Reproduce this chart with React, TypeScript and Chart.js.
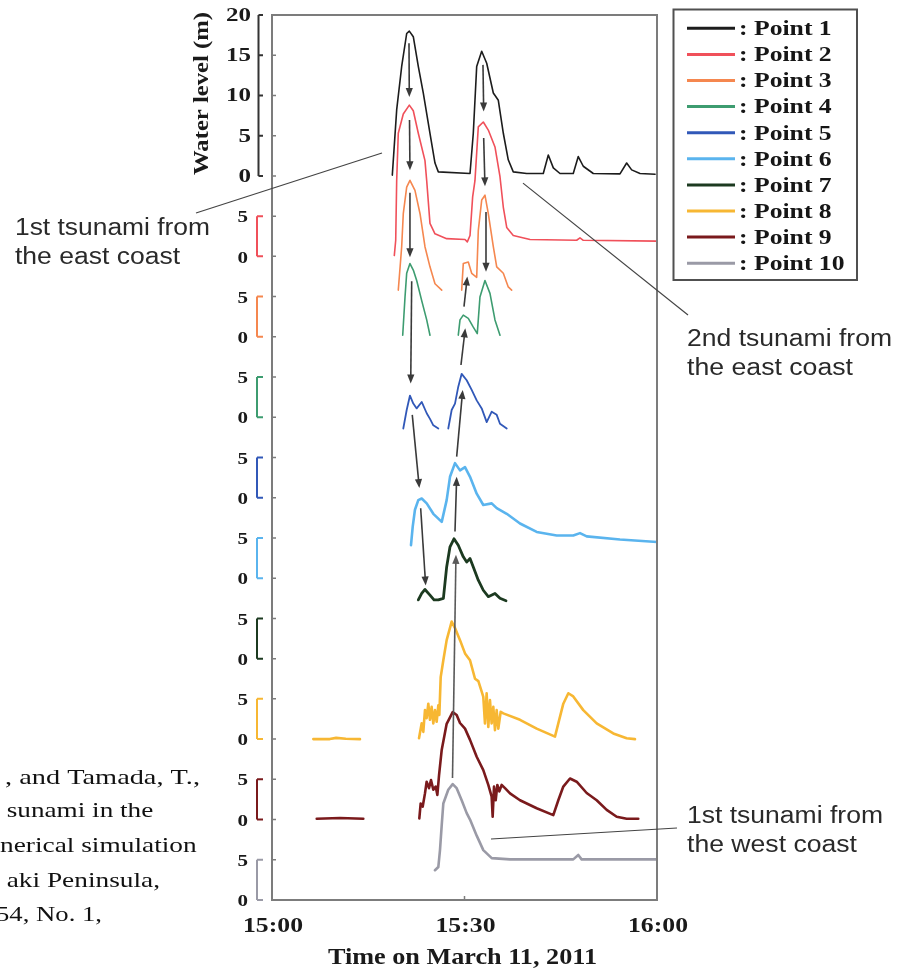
import React, { useEffect, useRef } from "react";
import { Chart, registerables } from "chart.js";

Chart.register(...registerables);

type Pt = [number, number | null];

// time in minutes after 15:00, water level (m) relative to each point's own zero
const pointNames = ["Point 1", "Point 2", "Point 3", "Point 4", "Point 5", "Point 6", "Point 7", "Point 8", "Point 9", "Point 10"];
const pointColors = ["#1c1c1c", "#f0505a", "#f5874f", "#3d9c70", "#3158b8", "#5ab4ee", "#1c3a20", "#f7b733", "#7a1a1c", "#9a9aa6"];
const pointWidths = [1.6, 1.6, 1.6, 1.6, 1.8, 2.6, 2.8, 2.6, 2.6, 2.6];
const panelStep = 10;

const point1: Pt[] = [[18.75, 0.1], [19.43, 8.2], [20.21, 13.6], [20.99, 17.7], [21.4, 18.0], [22.02, 17.3], [22.8, 13.6], [23.58, 10.3], [24.62, 5.3], [25.4, 1.6], [25.92, 0.5], [30.86, 0.3], [31.37, 5.3], [31.9, 13.6], [32.68, 15.5], [33.46, 14.0], [34.49, 10.3], [35.27, 9.4], [36.05, 5.3], [36.82, 2.0], [37.6, 0.5], [39.69, 0.3], [42.28, 0.3], [43.06, 2.6], [43.84, 1.0], [44.88, 0.3], [46.95, 0.3], [47.73, 2.4], [48.51, 1.2], [50.07, 0.3], [54.23, 0.25], [55.27, 1.6], [56.05, 0.75], [57.35, 0.3], [59.7, 0.2]];
const point2: Pt[] = [[19.06, 0.1], [19.28, 2.0], [19.43, 9.4], [19.68, 15.3], [20.46, 17.7], [21.4, 18.8], [22.02, 18.1], [22.8, 15.3], [23.84, 11.9], [24.11, 9.4], [24.62, 4.1], [25.4, 2.8], [27.22, 2.2], [30.08, 2.1], [30.44, 1.8], [30.86, 2.6], [31.27, 7.4], [31.63, 9.4], [32.15, 16.1], [32.93, 16.7], [33.71, 15.7], [34.75, 13.6], [35.53, 9.9], [36.05, 6.1], [36.58, 3.6], [37.6, 2.6], [40.21, 2.1], [47.48, 2.0], [48.0, 2.3], [48.51, 2.0], [60, 1.9]];
const point3: Pt[] = [[19.68, 5.8], [20.21, 11.2], [20.46, 15.3], [20.99, 18.6], [21.5, 19.45], [22.28, 18.2], [23.07, 15.3], [23.84, 11.2], [24.62, 8.7], [25.4, 6.6], [26.45, 5.8], [28.0, null], [29.56, 5.8], [29.81, 9.1], [30.59, 9.3], [31.12, 7.9], [31.9, 7.4], [32.15, 13.2], [32.68, 17.0], [33.19, 17.6], [33.71, 15.3], [34.49, 11.2], [35.02, 8.7], [36.05, 7.9], [36.82, 6.2], [37.35, 5.8]];
const point4: Pt[] = [[20.37, 10.2], [20.73, 14.95], [20.99, 17.9], [21.5, 19.1], [22.02, 18.3], [22.55, 17.0], [23.33, 14.5], [24.11, 12.1], [24.62, 10.2], [27.0, null], [29.03, 10.2], [29.3, 12.1], [29.81, 12.7], [30.59, 12.3], [31.37, 11.2], [31.99, 10.4], [32.41, 14.95], [33.19, 17.0], [33.97, 15.4], [34.75, 12.1], [35.53, 10.2]];
const point5: Pt[] = [[20.46, 8.6], [20.99, 10.9], [21.5, 12.7], [22.02, 11.7], [22.55, 11.1], [23.33, 11.9], [24.11, 10.5], [24.62, 9.8], [25.14, 9.0], [25.92, 8.6], [26.7, null], [27.47, 8.6], [28.0, 10.9], [28.52, 11.7], [29.03, 13.8], [29.56, 15.4], [30.34, 14.6], [31.12, 13.4], [31.9, 12.1], [32.68, 11.1], [33.46, 9.4], [34.24, 10.7], [35.02, 10.3], [35.53, 9.2], [36.58, 8.6]];
const point6: Pt[] = [[21.66, 4.1], [21.93, 6.4], [22.28, 8.5], [22.8, 9.7], [23.33, 9.9], [24.11, 9.3], [25.14, 8.0], [26.45, 7.0], [27.22, 9.7], [27.74, 12.6], [28.52, 14.3], [29.3, 13.4], [30.08, 13.8], [30.86, 12.6], [31.9, 10.5], [32.93, 9.1], [34.24, 9.3], [35.02, 8.7], [36.58, 8.0], [38.65, 6.8], [41.25, 5.75], [44.37, 5.3], [46.95, 5.3], [48.0, 5.6], [49.04, 5.2], [54.23, 4.8], [60, 4.5]];
const point7: Pt[] = [[22.8, 7.3], [23.33, 8.1], [23.84, 8.6], [24.62, 7.9], [25.25, 7.3], [25.92, 7.3], [26.71, 7.5], [27.22, 11.4], [27.74, 13.9], [28.36, 14.9], [29.03, 14.1], [29.81, 12.65], [30.34, 12.0], [30.86, 12.45], [31.37, 11.4], [32.15, 9.75], [32.93, 8.5], [33.71, 7.7], [34.75, 8.1], [35.53, 7.5], [36.47, 7.2]];
const point8: Pt[] = [[6.44, 0.0], [9.0, 0.0], [10.0, 0.15], [11.5, 0.05], [13.71, 0.0], [18.0, null], [22.91, 0.1], [23.32, 1.95], [23.58, 0.9], [23.84, 3.6], [24.1, 2.6], [24.36, 4.4], [24.62, 2.4], [24.88, 4.0], [25.14, 1.95], [25.4, 3.6], [25.66, 2.15], [25.92, 4.2], [26.08, 3.0], [26.29, 7.7], [26.7, 9.8], [27.22, 12.3], [28.0, 14.6], [28.52, 13.8], [29.3, 12.3], [30.08, 10.65], [30.86, 9.8], [31.64, 7.5], [32.16, 7.2], [32.68, 5.9], [32.93, 5.25], [33.19, 1.95], [33.45, 5.7], [33.71, 1.5], [33.97, 4.85], [34.23, 1.95], [34.49, 4.0], [34.75, 1.1], [35.01, 3.6], [35.27, 1.3], [35.64, 3.4], [36.05, 3.2], [38.65, 2.4], [41.25, 1.3], [44.1, 0.3], [44.62, 1.95], [45.4, 4.4], [46.18, 5.7], [46.95, 5.3], [48.51, 3.6], [50.6, 1.95], [53.19, 0.7], [55.27, 0.1], [56.57, 0.0]];
const point9: Pt[] = [[6.97, 0.1], [10.6, 0.2], [14.23, 0.1], [18.0, null], [22.96, 0.15], [23.17, 2.0], [23.48, 1.6], [23.84, 3.25], [24.1, 4.7], [24.47, 3.9], [24.78, 4.9], [25.14, 3.7], [25.51, 4.1], [25.77, 3.05], [26.03, 5.5], [26.44, 8.6], [27.22, 11.9], [28.16, 13.35], [28.78, 13.0], [29.3, 12.0], [30.08, 11.3], [30.86, 9.9], [31.9, 7.8], [32.93, 6.15], [33.71, 4.3], [34.23, 2.85], [34.39, 0.35], [34.6, 4.1], [34.86, 2.4], [35.12, 4.3], [35.43, 3.5], [35.79, 4.3], [36.31, 3.9], [37.09, 3.25], [38.65, 2.4], [41.25, 1.4], [43.84, 0.55], [44.62, 2.4], [45.4, 4.1], [46.44, 5.1], [47.48, 4.7], [49.04, 3.3], [50.6, 2.4], [52.16, 1.2], [53.72, 0.35], [55.27, 0.1], [57.08, 0.1]];
const point10: Pt[] = [[25.4, 3.7], [25.92, 4.1], [26.18, 6.2], [26.45, 9.3], [26.7, 12.0], [27.47, 13.7], [28.16, 14.4], [28.78, 13.9], [29.56, 12.4], [30.34, 10.8], [30.86, 10.0], [31.9, 8.0], [32.93, 6.2], [34.24, 5.2], [37.09, 5.05], [46.95, 5.05], [47.73, 5.6], [48.25, 5.05], [60, 5.05]];
const series: Pt[][] = [point1, point2, point3, point4, point5, point6, point7, point8, point9, point10];

const xTickValues = [0, 30, 60];
const xTickLabels = ["15:00", "15:30", "16:00"];
const topPanelTicks = [0, 5, 10, 15, 20];
const panelTicks = [0, 5];
const xTitle = "Time on March 11, 2011";
const yTitle = "Water level (m)";

// arrows between peaks: [t0, v0, t1, v1] in chart units (minutes, stacked metres)
const arrows: number[][] = [
  [21.35, 106.5, 21.4, 99.8],
  [21.43, 96.95, 21.5, 90.7],
  [21.5, 87.9, 21.5, 79.9],
  [21.77, 76.9, 21.62, 64.2],
  [21.86, 60.3, 22.96, 51.2],
  [23.17, 48.7, 23.95, 39.1],
  [32.88, 103.8, 32.99, 98.0],
  [32.99, 94.7, 33.19, 88.7],
  [33.35, 85.5, 33.35, 78.1],
  [29.92, 73.75, 30.44, 77.5],
  [29.45, 66.5, 30.12, 71.05],
  [28.78, 55.1, 29.72, 63.4],
  [28.52, 45.8, 28.78, 52.6],
  [28.13, 15.15, 28.67, 42.9],
];

const noteLines: string[][] = [
  ["1st tsunami from", "the east coast"],
  ["2nd tsunami from", "the east coast"],
  ["1st tsunami from", "the west coast"],
];
// leader targets in chart units (minutes, stacked metres)
const noteTargets: number[][] = [[17.14, 92.85], [39.12, 89.1], [34.13, 7.58]];

const citationLines = [", and Tamada, T.,", "sunami in the", "nerical simulation", "aki Peninsula,", "54, No. 1,"];

const SERIF = '"Liberation Serif", "Times New Roman", serif';
const SANS = '"Liberation Sans", Arial, sans-serif';

function drawFit(ctx: CanvasRenderingContext2D, text: string, x: number, y: number, width: number, align: CanvasTextAlign) {
  const w = ctx.measureText(text).width || 1;
  ctx.save();
  ctx.translate(x, y);
  ctx.scale(width / w, 1);
  ctx.textAlign = align;
  ctx.fillText(text, 0, 0);
  ctx.restore();
}

function drawScaled(ctx: CanvasRenderingContext2D, text: string, x: number, y: number, s: number, align: CanvasTextAlign) {
  ctx.save();
  ctx.translate(x, y);
  ctx.scale(s, 1);
  ctx.textAlign = align;
  ctx.fillText(text, 0, 0);
  ctx.restore();
}

const decorPlugin = {
  id: "decor",
  afterDatasetsDraw(chart: any) {
    const ctx: CanvasRenderingContext2D = chart.ctx;
    const xs = chart.scales.x;
    const ys = chart.scales.y;
    const a = chart.chartArea;
    ctx.save();
    ctx.textBaseline = "alphabetic";

    // arrows
    ctx.strokeStyle = "#3a3a3a";
    ctx.fillStyle = "#3a3a3a";
    ctx.lineWidth = 1.6;
    arrows.forEach(([t0, v0, t1, v1], i) => {
      const x0 = xs.getPixelForValue(t0), y0 = ys.getPixelForValue(v0);
      const x1 = xs.getPixelForValue(t1), y1 = ys.getPixelForValue(v1);
      const ang = Math.atan2(y1 - y0, x1 - x0);
      const len = 9, hw = 3.6;
      const c = i === arrows.length - 1 ? "#5a5a5a" : "#3a3a3a";
      ctx.strokeStyle = c;
      ctx.fillStyle = c;
      ctx.beginPath();
      ctx.moveTo(x0, y0);
      ctx.lineTo(x1 - Math.cos(ang) * len * 0.8, y1 - Math.sin(ang) * len * 0.8);
      ctx.stroke();
      ctx.beginPath();
      ctx.moveTo(x1, y1);
      ctx.lineTo(x1 - Math.cos(ang) * len - Math.sin(ang) * hw, y1 - Math.sin(ang) * len + Math.cos(ang) * hw);
      ctx.lineTo(x1 - Math.cos(ang) * len + Math.sin(ang) * hw, y1 - Math.sin(ang) * len - Math.cos(ang) * hw);
      ctx.closePath();
      ctx.fill();
    });

    // frame
    ctx.strokeStyle = "#7c7c7c";
    ctx.lineWidth = 2;
    ctx.strokeRect(a.left, a.top, a.right - a.left, a.bottom - a.top);
    // bottom tick at 15:30
    ctx.lineWidth = 1.5;
    ctx.beginPath();
    const mx = xs.getPixelForValue(xTickValues[1]);
    ctx.moveTo(mx, a.bottom);
    ctx.lineTo(mx, a.bottom - 4);
    ctx.stroke();

    // left brackets, frame ticks, labels
    for (let i = 0; i < series.length; i++) {
      const off = (series.length - 1 - i) * panelStep;
      const ticks = i === 0 ? topPanelTicks : panelTicks;
      const yTop = ys.getPixelForValue(off + ticks[ticks.length - 1]);
      const y0 = ys.getPixelForValue(off);
      const bx = i === 0 ? a.left - 13.5 : a.left - 15;
      ctx.strokeStyle = i === 0 ? "#333333" : pointColors[i];
      ctx.lineWidth = 2;
      ctx.beginPath();
      ctx.moveTo(bx, yTop);
      ctx.lineTo(bx, y0);
      ticks.forEach((tv) => {
        const yy = ys.getPixelForValue(off + tv);
        ctx.moveTo(bx, yy);
        ctx.lineTo(a.left - 9, yy);
      });
      ctx.stroke();

      ctx.strokeStyle = "#7c7c7c";
      ctx.lineWidth = 1.5;
      ctx.beginPath();
      ticks.forEach((tv) => {
        const yy = ys.getPixelForValue(off + tv);
        ctx.moveTo(a.left, yy);
        ctx.lineTo(a.left + 4, yy);
      });
      ctx.stroke();

      ctx.fillStyle = "#1a1a1a";
      ctx.textBaseline = "middle";
      if (i === 0) {
        ctx.font = `bold 19px ${SERIF}`;
        const s = 25 / ctx.measureText("20").width;
        ticks.forEach((tv) => {
          drawScaled(ctx, String(tv), a.left - 21, ys.getPixelForValue(off + tv) + 1, s, "right");
        });
      } else {
        ctx.font = `bold 16px ${SERIF}`;
        const s = 10.5 / ctx.measureText("5").width;
        ticks.forEach((tv) => {
          drawScaled(ctx, String(tv), a.left - 24, ys.getPixelForValue(off + tv) + 2, s, "right");
        });
      }
      ctx.textBaseline = "alphabetic";
    }

    // y title
    ctx.fillStyle = "#1a1a1a";
    ctx.font = `bold 22px ${SERIF}`;
    ctx.save();
    ctx.translate(a.left - 70, (ys.getPixelForValue(100) + ys.getPixelForValue(100)) / 2 - 2);
    ctx.rotate(-Math.PI / 2);
    ctx.textBaseline = "middle";
    drawFit(ctx, yTitle, 0, 0, 163, "center");
    ctx.restore();

    // x tick labels
    ctx.font = `bold 22px ${SERIF}`;
    xTickValues.forEach((v, k) => {
      drawFit(ctx, xTickLabels[k], xs.getPixelForValue(v) + 1, a.bottom + 32, 60, "center");
    });
    // x title
    ctx.font = `bold 24px ${SERIF}`;
    drawFit(ctx, xTitle, (a.left + a.right) / 2 - 2, a.bottom + 64, 269, "center");

    // legend
    const lx = a.right + 16.5, ly = 9.5;
    ctx.strokeStyle = "#505050";
    ctx.lineWidth = 2;
    ctx.strokeRect(lx, ly, 183.5, 270.5);
    ctx.font = `bold 22px ${SERIF}`;
    const ls = 92.7 / ctx.measureText(": " + pointNames[0]).width;
    pointNames.forEach((name, k) => {
      const rowY = 28.3 + k * 26.1;
      ctx.strokeStyle = pointColors[k];
      ctx.lineWidth = 3;
      ctx.beginPath();
      ctx.moveTo(lx + 13.5, rowY);
      ctx.lineTo(lx + 61.5, rowY);
      ctx.stroke();
      ctx.fillStyle = "#161616";
      drawScaled(ctx, ": " + name, lx + 65.5, rowY + 6.8, ls, "left");
    });

    // annotations
    const notePos = [[15, 235], [687, 346], [687, 823]];
    const noteWidths = [[195, 165], [205, 166], [196, 170]];
    const noteStarts = [[196, 213], [523, 183], [491, 839]];
    ctx.fillStyle = "#2a2a2a";
    ctx.font = `23px ${SANS}`;
    noteLines.forEach((lines, k) => {
      lines.forEach((ln, j) => {
        drawFit(ctx, ln, notePos[k][0], notePos[k][1] + j * 28.5, noteWidths[k][j], "left");
      });
    });
    ctx.strokeStyle = "#444444";
    ctx.lineWidth = 1.2;
    const noteEnds = [[196, 213], [688, 315], [677, 828]];
    noteTargets.forEach(([t, v], k) => {
      const px = xs.getPixelForValue(t), py = ys.getPixelForValue(v);
      ctx.beginPath();
      ctx.moveTo(k === 0 ? noteEnds[0][0] : px, k === 0 ? noteEnds[0][1] : py);
      ctx.lineTo(k === 0 ? px : noteEnds[k][0], k === 0 ? py : noteEnds[k][1]);
      ctx.stroke();
    });
    void noteStarts;

    // citation fragment at left
    ctx.fillStyle = "#111111";
    ctx.font = `22px ${SERIF}`;
    const cit = [[5, 784, 195], [6.7, 817, 146.6], [0, 851.5, 196.7], [6.7, 886.5, 153.3], [-4, 921, 106]];
    citationLines.forEach((ln, k) => {
      drawFit(ctx, ln, cit[k][0], cit[k][1], cit[k][2], "left");
    });

    ctx.restore();
  },
};

export default function App() {
  const ref = useRef<HTMLCanvasElement | null>(null);
  useEffect(() => {
    document.body.style.margin = "0";
    const canvas = ref.current;
    if (!canvas) return;
    const datasets = series.map((pts, i) => {
      const off = (series.length - 1 - i) * panelStep;
      return {
        label: pointNames[i],
        data: pts.map(([t, l]) => ({ x: t, y: l === null ? null : off + l })),
        borderColor: pointColors[i],
        backgroundColor: pointColors[i],
        borderWidth: pointWidths[i],
        pointRadius: 0,
        tension: 0,
        fill: false,
        spanGaps: false,
        borderJoinStyle: "round" as const,
        borderCapStyle: "round" as const,
      };
    });
    const chart = new Chart(canvas, {
      type: "line",
      data: { datasets },
      options: {
        animation: false,
        responsive: false,
        devicePixelRatio: 1,
        layout: { padding: { left: 272, top: 15, right: 254, bottom: 71 } },
        scales: {
          x: { type: "linear", min: 0, max: 60, display: false },
          y: { type: "linear", min: 0, max: 110, display: false },
        },
        plugins: { legend: { display: false }, tooltip: { enabled: false } },
      },
      plugins: [decorPlugin],
    } as any);
    return () => chart.destroy();
  }, []);
  return (
    <div style={{ width: 911, height: 971, position: "relative", background: "#fff" }}>
      <canvas ref={ref} width={911} height={971} style={{ display: "block", width: 911, height: 971 }} />
    </div>
  );
}
